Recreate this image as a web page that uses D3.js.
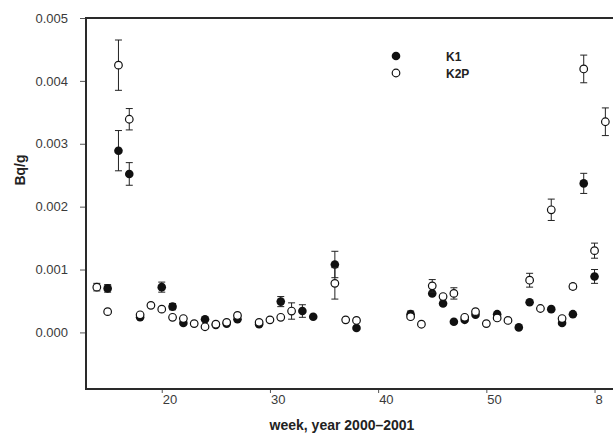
<!DOCTYPE html>
<html>
<head>
<meta charset="utf-8">
<script src="https://cdn.jsdelivr.net/npm/d3@7"></script>
<style>
  body { margin: 0; background: #fff; }
  svg { display: block; }
  .tick text { font-family: "Liberation Sans", Arial, sans-serif; font-size: 13px; fill: #3a3a3a; }
  .tick line { stroke: #555; }
  .title { font-family: "Liberation Sans", Arial, sans-serif; font-weight: bold; fill: #222; }
</style>
</head>
<body>
<div id="chart"></div>
<script>
// weeks counted from week 1 of 2000; week 53 = week 1 of 2001
const k1Weeks  = [15, 16, 17, 18, 20, 21, 22, 24, 25, 26, 27, 29, 31, 33, 34, 36, 38, 43, 45, 46, 47, 48, 49, 51, 53, 54, 56, 57, 58, 59, 60];
const k1Values = [0.00070, 0.00289, 0.00252, 0.00024, 0.00072, 0.00041, 0.00015, 0.00021, 0.00012, 0.00014, 0.00021, 0.00013, 0.00049, 0.00034, 0.00025, 0.00108, 0.00007, 0.00029, 0.00062, 0.00046, 0.00017, 0.00020, 0.00028, 0.00029, 0.00008, 0.00048, 0.00037, 0.00015, 0.00029, 0.00237, 0.00089];
const k1Errors = [0.00006, 0.00032, 0.00018, 0, 0.00008, 0.00005, 0, 0, 0, 0, 0, 0, 0.00008, 0.00010, 0, 0.00021, 0, 0.00005, 0, 0, 0, 0, 0, 0, 0, 0, 0, 0, 0, 0.00016, 0.00011];

const k2pWeeks  = [14, 15, 16, 17, 18, 19, 20, 21, 22, 23, 24, 25, 26, 27, 29, 30, 31, 32, 36, 37, 38, 43, 44, 45, 46, 47, 48, 49, 50, 51, 52, 54, 55, 56, 57, 58, 59, 60, 61];
const k2pValues = [0.00072, 0.00033, 0.00425, 0.00339, 0.00028, 0.00043, 0.00037, 0.00024, 0.00022, 0.00014, 0.00009, 0.00013, 0.00016, 0.00027, 0.00016, 0.00020, 0.00024, 0.00034, 0.00078, 0.00020, 0.00019, 0.00025, 0.00013, 0.00074, 0.00057, 0.00062, 0.00024, 0.00033, 0.00014, 0.00023, 0.00019, 0.00083, 0.00038, 0.00195, 0.00022, 0.00073, 0.00419, 0.00130, 0.00335];
const k2pErrors = [0.00006, 0, 0.00040, 0.00017, 0, 0, 0, 0, 0, 0, 0, 0, 0, 0, 0, 0, 0, 0.00013, 0.00025, 0, 0, 0, 0, 0.00010, 0, 0.00009, 0, 0, 0, 0, 0, 0.00011, 0, 0.00017, 0, 0.00004, 0.00022, 0.00012, 0.00022];

const xTicks = [20, 30, 40, 50, 60];
const xTickLabels = ["20", "30", "40", "50", "8"];
const yTicks = [0, 0.001, 0.002, 0.003, 0.004, 0.005];

const width = 613, height = 435;
const margin = {top: 18, right: 0, bottom: 46, left: 86};

const svg = d3.select("#chart").append("svg")
  .attr("width", width)
  .attr("height", height);

const x = d3.scaleLinear().domain([13, 62]).range([margin.left, margin.left + 49 * 10.82]);
const y = d3.scaleLinear().domain([-0.0009, 0.005]).range([height - margin.bottom, margin.top]);

// y axis
const yAxis = svg.append("g")
  .attr("transform", `translate(${margin.left - 1},0)`)
  .call(d3.axisLeft(y).tickValues(yTicks).tickFormat(d3.format(".3f")).tickSize(5).tickPadding(12));
yAxis.select(".domain").remove();

// x axis
const xAxis = svg.append("g")
  .attr("transform", `translate(0,${height - margin.bottom})`)
  .call(d3.axisBottom(x).tickValues(xTicks).tickFormat((d, i) => xTickLabels[i]).tickSize(4).tickPadding(2));
xAxis.select(".domain").remove();
xAxis.selectAll(".tick text").attr("text-anchor", "start").attr("dx", "0.5");

// frame (left, top, bottom)
const frame = svg.append("g").attr("stroke", "#2a2a2a").attr("stroke-width", 2).attr("fill", "none");
frame.append("path")
  .attr("d", `M${width},${y(0.005)}H${margin.left}V${y(-0.0009)}H${width}`);

// axis titles
svg.append("text")
  .attr("class", "title")
  .attr("transform", `translate(25,170) rotate(-90)`)
  .attr("text-anchor", "middle")
  .style("font-size", "14px")
  .text("Bq/g");

svg.append("text")
  .attr("class", "title")
  .attr("x", 342)
  .attr("y", 430)
  .attr("text-anchor", "middle")
  .style("font-size", "14px")
  .text("week, year 2000–2001");

function drawSeries(weeks, values, errors, filled) {
  const data = weeks.map((w, i) => ({w: w, v: values[i], e: errors[i]}));
  const g = svg.append("g");
  const eb = g.selectAll("g.err").data(data.filter(d => d.e > 0)).enter().append("g")
    .attr("stroke", "#222").attr("stroke-width", 1);
  eb.append("line")
    .attr("x1", d => x(d.w)).attr("x2", d => x(d.w))
    .attr("y1", d => y(d.v - d.e)).attr("y2", d => y(d.v + d.e));
  eb.append("line")
    .attr("x1", d => x(d.w) - 3.5).attr("x2", d => x(d.w) + 3.5)
    .attr("y1", d => y(d.v + d.e)).attr("y2", d => y(d.v + d.e));
  eb.append("line")
    .attr("x1", d => x(d.w) - 3.5).attr("x2", d => x(d.w) + 3.5)
    .attr("y1", d => y(d.v - d.e)).attr("y2", d => y(d.v - d.e));
  g.selectAll("circle").data(data).enter().append("circle")
    .attr("cx", d => x(d.w))
    .attr("cy", d => y(d.v))
    .attr("r", filled ? 4.3 : 3.8)
    .attr("fill", filled ? "#111" : "#fff")
    .attr("stroke", "#111")
    .attr("stroke-width", filled ? 0 : 1.2);
}

drawSeries(k1Weeks, k1Values, k1Errors, true);
drawSeries(k2pWeeks, k2pValues, k2pErrors, false);

// legend
const legend = svg.append("g");
const legendItems = [{name: "K1", filled: true}, {name: "K2P", filled: false}];
legendItems.forEach((d, i) => {
  const ly = 56 + i * 17;
  legend.append("circle")
    .attr("cx", 396).attr("cy", ly)
    .attr("r", d.filled ? 4.3 : 3.8)
    .attr("fill", d.filled ? "#111" : "#fff")
    .attr("stroke", "#111")
    .attr("stroke-width", d.filled ? 0 : 1.2);
  legend.append("text")
    .attr("class", "title")
    .attr("x", 446).attr("y", ly + 4.5)
    .style("font-size", "12px")
    .text(d.name);
});
</script>
</body>
</html>
